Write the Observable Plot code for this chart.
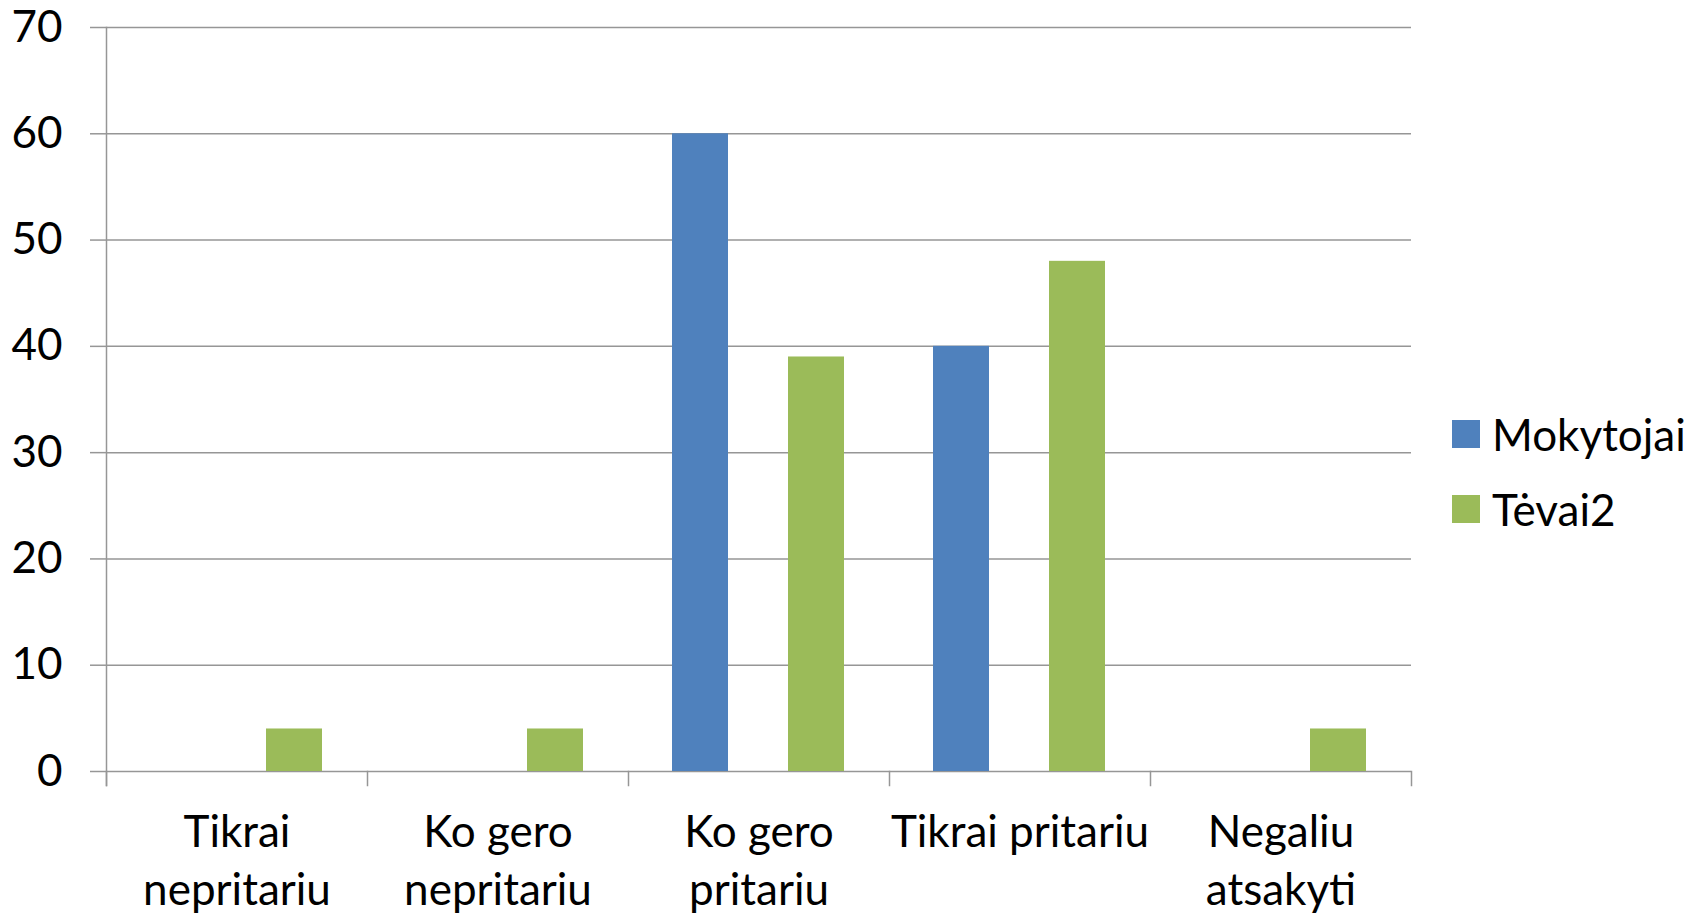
<!DOCTYPE html>
<html>
<head>
<meta charset="utf-8">
<script src="https://cdn.jsdelivr.net/npm/d3@7"></script>
<script src="https://cdn.jsdelivr.net/npm/@observablehq/plot@0.6"></script>
<style>
  html, body { margin: 0; padding: 0; background: #fff; }
  #wrap { position: relative; width: 1706px; height: 913px; font-family: Lato, sans-serif; }
  #legend { position: absolute; left: 1452px; top: 411px; font-size: 44px; color: #000; }
  .item { display: flex; align-items: center; height: 46px; margin-bottom: 29px; }
  .sw { width: 28px; height: 28px; margin-right: 12px; }
</style>
</head>
<body>
<div id="wrap"><div id="legend"></div></div>
<script>
const categories = ["Tikrai nepritariu", "Ko gero nepritariu", "Ko gero pritariu", "Tikrai pritariu", "Negaliu atsakyti"];
const categoryLabels = ["Tikrai\nnepritariu", "Ko gero\nnepritariu", "Ko gero\npritariu", "Tikrai pritariu", "Negaliu\natsakyti"];
const series = ["Mokytojai", "Tėvai2"];
const mokytojai = [0, 0, 60, 40, 0];
const tevai2 = [4, 4, 39, 48, 4];
const colors = ["#4F81BD", "#9BBB59"];
const yTicks = [0, 10, 20, 30, 40, 50, 60, 70];

const data = [];
categories.forEach((c, i) => {
  data.push({category: c, series: series[0], value: mokytojai[i]});
  data.push({category: c, series: series[1], value: tevai2[i]});
});

const lineColor = "#969696";

const chart = Plot.plot({
  width: 1706,
  height: 913,
  marginLeft: 105,
  marginRight: 294,
  marginTop: 27,
  marginBottom: 142,
  style: {fontFamily: "Lato, sans-serif", fontSize: "44px", color: "#000", background: "transparent"},
  fx: {domain: categories, padding: 0, label: null},
  x: {domain: series, paddingInner: 0.513, paddingOuter: 0.376, axis: null},
  y: {domain: [0, 70], label: null},
  color: {domain: series, range: colors},
  marks: [
    Plot.gridY(yTicks, {stroke: lineColor, strokeOpacity: 1, strokeWidth: 1.5}),
    Plot.axisY(yTicks, {tickSize: 16, tickPadding: 28, stroke: lineColor, strokeWidth: 1.5, fill: "#000", fontSize: 44, label: null}),
    Plot.frame({anchor: "left", facetAnchor: "left", stroke: lineColor, strokeWidth: 1.5, insetBottom: -14}),
    Plot.frame({anchor: "left", stroke: lineColor, strokeWidth: 1.5, insetTop: 744, insetBottom: -14}),
    Plot.frame({anchor: "right", facetAnchor: "right", stroke: lineColor, strokeWidth: 1.5, insetTop: 744, insetBottom: -14}),
    Plot.barY(data.filter(d => d.value > 0), {fx: "category", x: "series", y: "value", fill: "series"}),
    Plot.axisFx({anchor: "bottom", tickSize: 0, tickPadding: 34, fill: "#000", fontSize: 44, lineHeight: 1.32, lineAnchor: "top", label: null,
      tickFormat: c => categoryLabels[categories.indexOf(c)]})
  ]
});
document.getElementById("wrap").prepend(chart);

const legend = document.getElementById("legend");
series.forEach((s, i) => {
  const item = document.createElement("div");
  item.className = "item";
  const sw = document.createElement("div");
  sw.className = "sw";
  sw.style.background = colors[i];
  const t = document.createElement("span");
  t.textContent = s;
  item.appendChild(sw);
  item.appendChild(t);
  legend.appendChild(item);
});
</script>
</body>
</html>
